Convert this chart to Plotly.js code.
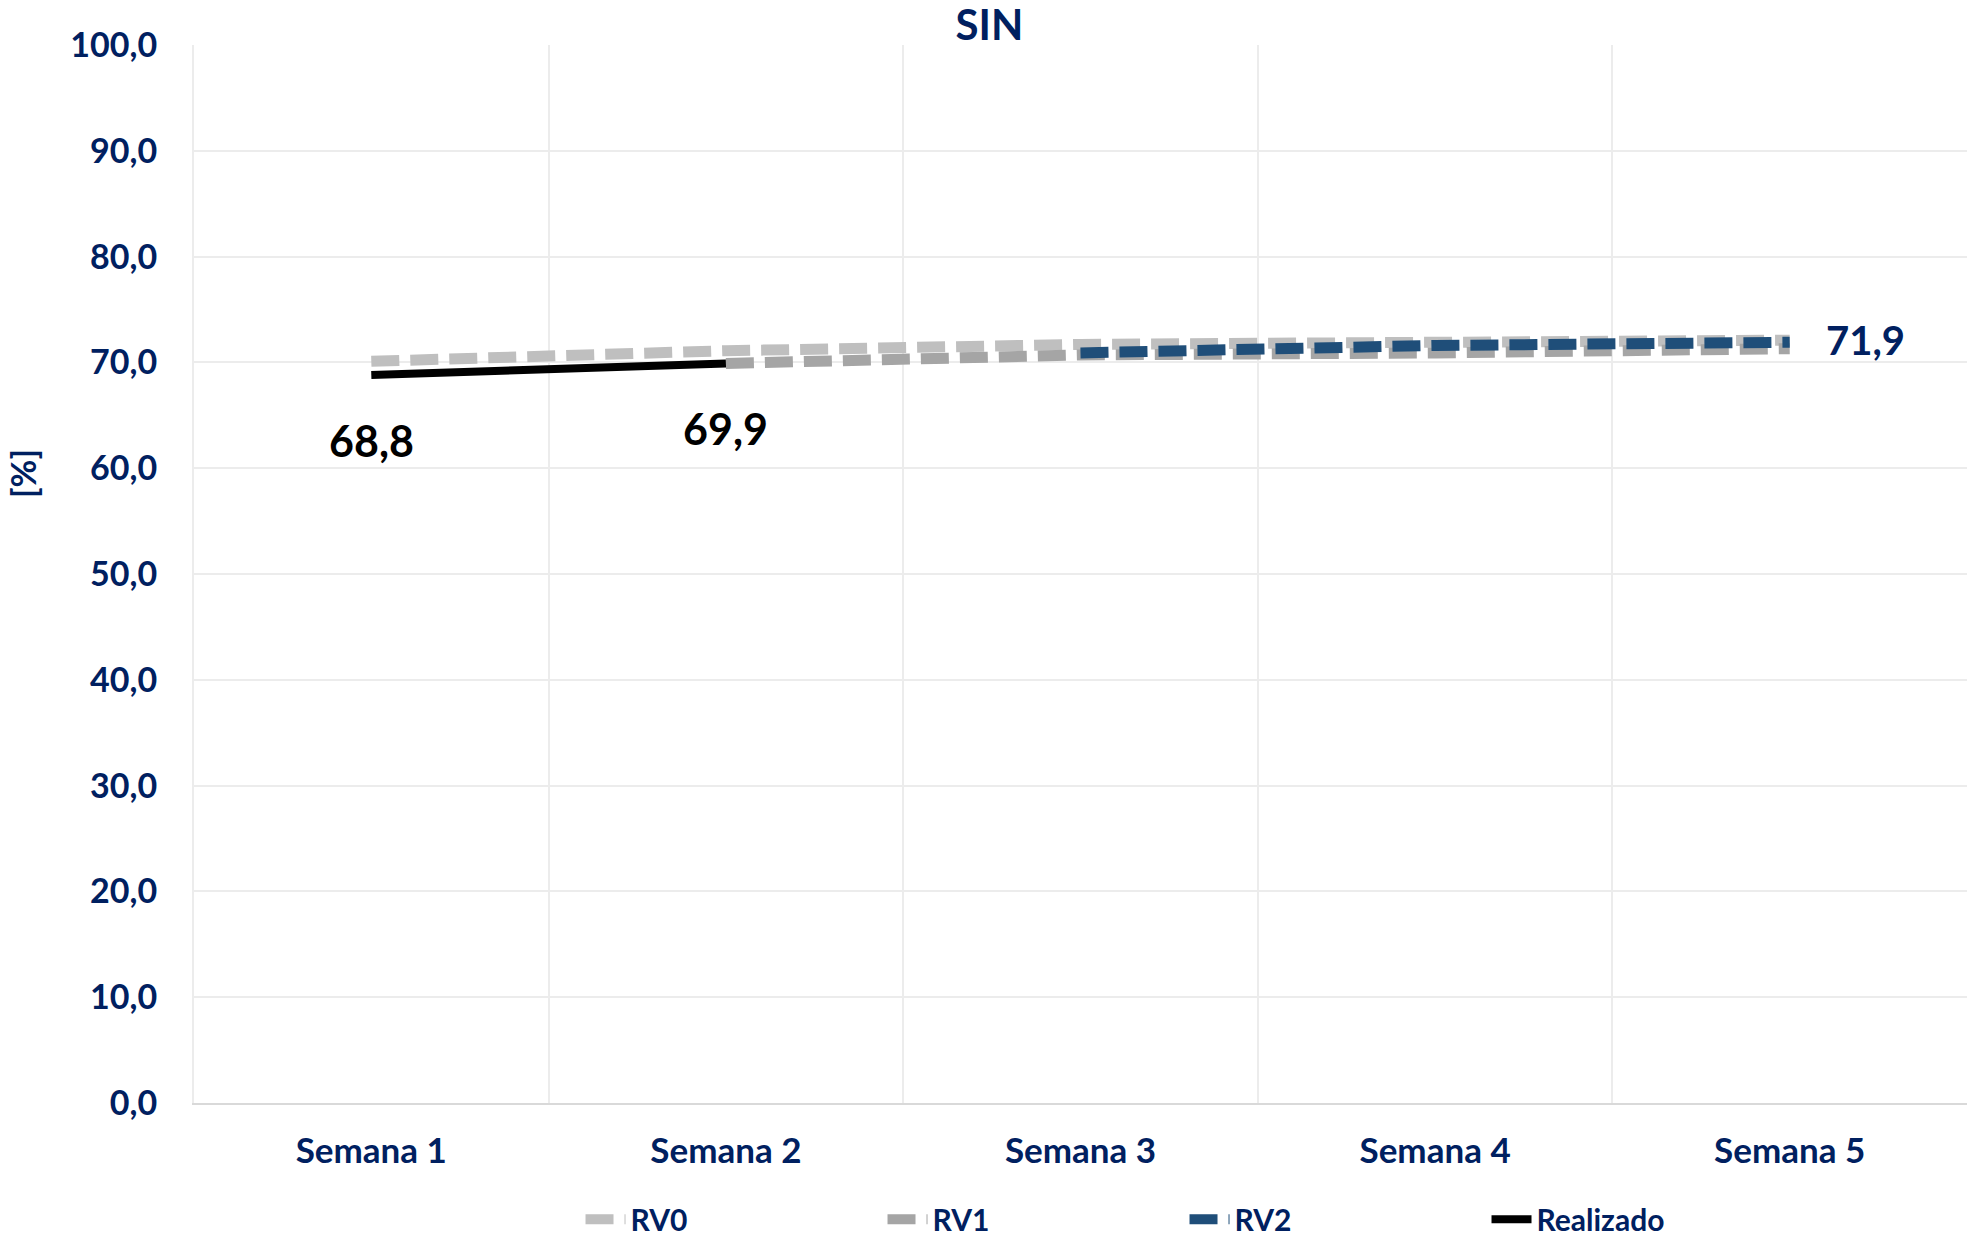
<!DOCTYPE html>
<html>
<head>
<meta charset="utf-8">
<script src="https://cdn.plot.ly/plotly-3.0.1.min.js"></script>
<style>html,body{margin:0;padding:0;background:#fff;}#chart{width:1967px;height:1240px;}</style>
</head>
<body>
<div id="chart"></div>
<script>
const categories = ["Semana 1", "Semana 2", "Semana 3", "Semana 4", "Semana 5"];
const rv0 = [70.1, 71.1, 71.7, 72.0, 72.1];
const rv1 = [null, 69.9, 70.7, 70.9, 71.3];
const rv2 = [null, null, 70.9, 71.6, 71.9];
const realizado = [68.8, 69.9, null, null, null];
const yTicks = [0, 10, 20, 30, 40, 50, 60, 70, 80, 90, 100];

const NAVY = "#002060";
const FONT = "Lato, 'Open Sans', sans-serif";
const dash = "28px,11px";

const traces = [
  {name: "RV0", x: categories, y: rv0, mode: "lines", line: {color: "#bfbfbf", width: 11, dash: dash}},
  {name: "RV1", x: categories, y: rv1, mode: "lines", line: {color: "#a5a5a5", width: 11, dash: dash}},
  {name: "RV2", x: categories, y: rv2, mode: "lines", line: {color: "#1f4e79", width: 11, dash: dash}},
  {name: "Realizado", x: categories, y: realizado, mode: "lines", line: {color: "#000000", width: 8}}
];

function fmt(v) { return v.toFixed(1).replace(".", ","); }

const annotations = [];
realizado.forEach((v, i) => {
  if (v !== null) annotations.push({
    x: categories[i], y: v, xref: "x", yref: "y", text: fmt(v), showarrow: false,
    yshift: -65, font: {family: FONT, size: 43, color: "#000000", weight: 700}
  });
});
const lastIdx = rv2.length - 1;
annotations.push({
  x: categories[lastIdx], y: rv2[lastIdx], xref: "x", yref: "y", text: fmt(rv2[lastIdx]),
  showarrow: false, xshift: 76, yshift: 2,
  font: {family: FONT, size: 40, color: NAVY, weight: 700}
});
annotations.push({
  x: -0.097, y: 0.5945, xref: "paper", yref: "paper", xanchor: "center", yanchor: "middle",
  text: "[%]", textangle: -90,
  showarrow: false, font: {family: FONT, size: 34, color: NAVY, weight: 700}
});

const layout = {
  width: 1967, height: 1240,
  margin: {l: 194, r: 0, t: 45, b: 137},
  paper_bgcolor: "#ffffff", plot_bgcolor: "#ffffff",
  separators: ",.",
  title: {text: "SIN", x: 0.503, xref: "container", y: 0.98, yref: "container", yanchor: "middle",
          font: {family: FONT, size: 42, color: NAVY, weight: 700}},
  xaxis: {
    type: "category", tickson: "boundaries", range: [-0.5, 4.5],
    showgrid: true, gridcolor: "#ececec", gridwidth: 2,
    showline: true, linecolor: "#d9d9d9", linewidth: 2,
    ticks: "", ticklabelstandoff: 16,
    tickfont: {family: FONT, size: 35, color: NAVY, weight: 700}
  },
  yaxis: {
    range: [0, 100], tickvals: yTicks, tickformat: ".1f",
    showgrid: true, gridcolor: "#ececec", gridwidth: 2,
    showline: true, linecolor: "#ececec", linewidth: 2, zeroline: false,
    ticks: "", ticklabelstandoff: 28,
    tickfont: {family: FONT, size: 34, color: NAVY, weight: 700}
  },
  showlegend: true,
  legend: {
    orientation: "h", x: 0.218, xanchor: "left",
    yref: "container", y: 0.0168, yanchor: "middle",
    entrywidth: 247, itemwidth: 40,
    font: {family: FONT, size: 30, color: NAVY, weight: 700}
  },
  annotations: annotations
};

Plotly.newPlot("chart", traces, layout, {staticPlot: true});
</script>
</body>
</html>
